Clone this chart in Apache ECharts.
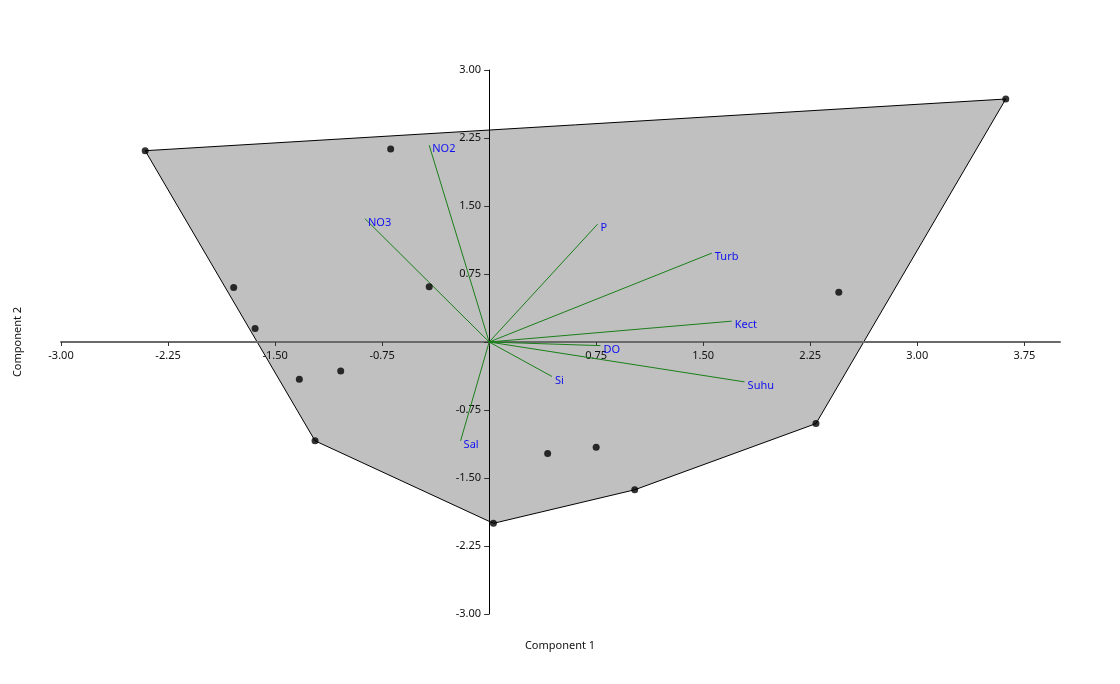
<!DOCTYPE html>
<html>
<head>
<meta charset="utf-8">
<script src="https://cdn.jsdelivr.net/npm/echarts@6/dist/echarts.min.js"></script>
<style>
html,body{margin:0;padding:0;background:#fff;}
#chart{width:1120px;height:684px;}
</style>
</head>
<body>
<div id="chart"></div>
<script>
// Tick positions and tick labels (0 is not labelled in the reference)
const xTicks = [-3, -2.25, -1.5, -0.75, 0, 0.75, 1.5, 2.25, 3, 3.75];
const yTicks = [-3, -2.25, -1.5, -0.75, 0, 0.75, 1.5, 2.25, 3];
const xTickLabels = [-3, -2.25, -1.5, -0.75, 0.75, 1.5, 2.25, 3, 3.75];
const yTickLabels = [-3, -2.25, -1.5, -0.75, 0.75, 1.5, 2.25, 3];

// Sample scores (Component 1, Component 2)
const scoreX = [-2.41, 3.62, -0.69, -1.79, -1.64, -0.42, -1.33, -1.04, -1.22, 0.03, 0.41, 0.75, 1.02, 2.29, 2.45];
const scoreY = [2.11, 2.68, 2.13, 0.60, 0.15, 0.61, -0.41, -0.32, -1.09, -2.00, -1.23, -1.16, -1.63, -0.90, 0.55];

// Variable loadings
const varNames = ['NO2', 'NO3', 'P', 'Turb', 'Kect', 'DO', 'Suhu', 'Si', 'Sal'];
const loadX = [-0.42, -0.87, 0.76, 1.56, 1.70, 0.78, 1.79, 0.44, -0.20];
const loadY = [2.17, 1.36, 1.30, 0.98, 0.23, -0.04, -0.44, -0.38, -1.09];

const X_MIN = -3, X_MAX = 4, Y_MIN = -3, Y_MAX = 3;

// Convex hull of the scores (monotone chain)
function convexHull(pts) {
  const p = pts.slice().sort((a, b) => a[0] - b[0] || a[1] - b[1]);
  const cross = (o, a, b) => (a[0] - o[0]) * (b[1] - o[1]) - (a[1] - o[1]) * (b[0] - o[0]);
  const lower = [];
  for (const q of p) {
    while (lower.length >= 2 && cross(lower[lower.length - 2], lower[lower.length - 1], q) <= 0) lower.pop();
    lower.push(q);
  }
  const upper = [];
  for (let i = p.length - 1; i >= 0; i--) {
    const q = p[i];
    while (upper.length >= 2 && cross(upper[upper.length - 2], upper[upper.length - 1], q) <= 0) upper.pop();
    upper.push(q);
  }
  upper.pop(); lower.pop();
  return lower.concat(upper);
}

const scorePts = scoreX.map((x, i) => [x, scoreY[i]]);
const hull = convexHull(scorePts);
const loadData = varNames.map((n, i) => [loadX[i], loadY[i], n]);

const FONT = '"Noto Sans", "Open Sans", sans-serif';
const fmt = v => v.toFixed(2);

const chart = echarts.init(document.getElementById('chart'));
chart.setOption({
  animation: false,
  backgroundColor: '#fff',
  textStyle: { fontFamily: FONT },
  grid: { left: 61, right: 60, top: 70, bottom: 70, containLabel: false },
  xAxis: {
    type: 'value', min: X_MIN, max: X_MAX, z: 3, position: 'bottom',
    splitLine: { show: false },
    axisLine: { onZero: false, lineStyle: { color: '#6a6a6a', width: 2 } },
    axisTick: { show: true, length: 4, lineStyle: { color: '#333', width: 1 }, customValues: xTicks },
    axisLabel: { customValues: xTickLabels, formatter: fmt, color: '#111', fontSize: 11, fontFamily: FONT, margin: 8 }
  },
  yAxis: {
    type: 'value', min: Y_MIN, max: Y_MAX, interval: 0.75, z: 3, position: 'left',
    splitLine: { show: false },
    axisLine: { onZero: false, lineStyle: { color: '#000', width: 1 } },
    axisTick: { show: true, length: 5, lineStyle: { color: '#333', width: 1 }, customValues: yTicks },
    axisLabel: { customValues: yTickLabels, formatter: fmt, color: '#111', fontSize: 11, fontFamily: FONT, margin: 8 }
  },
  graphic: [
    { type: 'text', left: 'center', top: 640, style: { text: 'Component 1', fill: '#111', font: '11px ' + FONT } },
    { type: 'text', x: 18, y: 342, rotation: Math.PI / 2, style: { text: 'Component 2', fill: '#111', font: '11px ' + FONT, align: 'center', verticalAlign: 'middle' } }
  ],
  series: [
    {
      type: 'custom', z: 1, silent: true,
      data: [[0, 0]],
      renderItem: function (params, api) {
        const pts = hull.map(p => api.coord(p));
        return {
          type: 'polygon',
          shape: { points: pts },
          style: { fill: '#c0c0c0', stroke: '#000', lineWidth: 1 }
        };
      }
    },
    {
      type: 'custom', z: 4, silent: true,
      data: loadData,
      renderItem: function (params, api) {
        const o = api.coord([0, 0]);
        const e = api.coord([api.value(0), api.value(1)]);
        return {
          type: 'group',
          children: [
            { type: 'line', shape: { x1: o[0], y1: o[1], x2: e[0], y2: e[1] }, style: { stroke: '#1a7f1a', lineWidth: 1 } },
            { type: 'text', x: e[0] + 3, y: e[1] + 4, style: { text: loadData[params.dataIndex][2], fill: '#1010f0', font: '11px ' + FONT, align: 'left', verticalAlign: 'middle' } }
          ]
        };
      }
    },
    {
      type: 'scatter', z: 5,
      symbol: 'circle', symbolSize: 7,
      itemStyle: { color: '#000' },
      data: scorePts
    }
  ]
});

// Move both axes to cross at the origin (offset measured via the chart's own scales)
const origin = chart.convertToPixel({ gridIndex: 0 }, [0, 0]);
const corner = chart.convertToPixel({ gridIndex: 0 }, [X_MIN, Y_MIN]);
chart.setOption({
  xAxis: { offset: origin[1] - corner[1] },
  yAxis: { offset: corner[0] - origin[0] }
});
</script>
</body>
</html>
